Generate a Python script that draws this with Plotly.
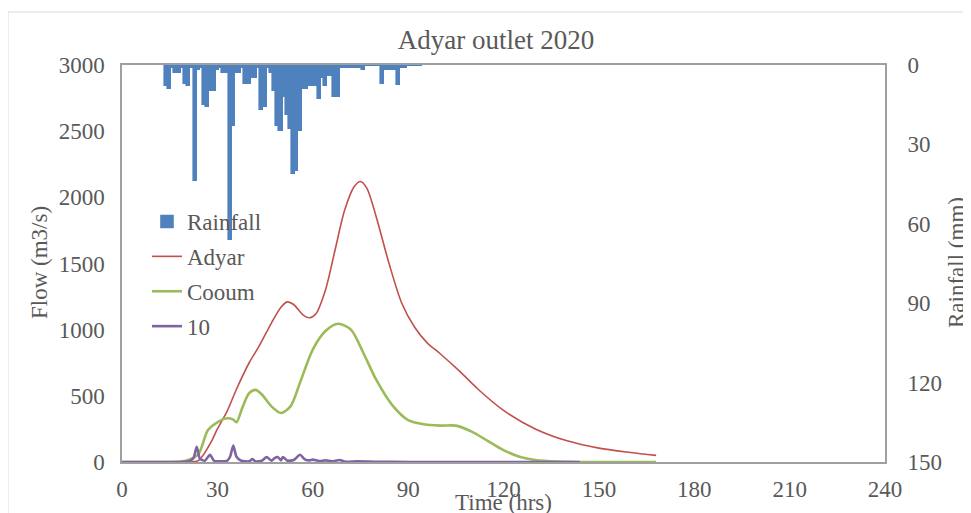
import plotly.graph_objects as go

# Rainfall (hourly, mm)
rain_hours = list(range(14, 95))
rain_mm = [8, 9, 1, 3, 3, 1, 7, 8, 1, 44, 2, 1, 15, 16, 10, 10, 2, 1, 3, 3,
           66, 23, 3, 3, 1, 7, 7, 5, 5, 1, 17, 16, 1, 3, 10, 23, 25, 12, 19, 24,
           41, 40, 25, 9, 9, 8, 8, 8, 13, 5, 8, 4, 4, 12, 12, 1, 1, 1, 1, 1,
           1, 1, 2, 0.5, 0.5, 0.5, 0.5, 0.5, 7, 2, 2, 2, 2, 7.5, 1, 1, 0.5, 0.5, 0.5, 0.3, 0.3]

# Adyar flow
adyar_t = [0, 10, 20, 24, 28, 30, 33, 36, 40, 43, 47, 50, 52, 54, 57, 59, 61, 64, 67, 70,
           73, 75, 77, 80, 84, 88, 92, 96, 100, 106, 112, 120, 130, 140, 150, 160, 168]
adyar_q = [0, 0, 0, 10, 150, 250, 380, 550, 750, 870, 1050, 1170, 1210, 1190, 1110, 1090, 1120, 1300, 1600, 1900,
           2080, 2120, 2070, 1850, 1500, 1200, 1020, 900, 820, 690, 550, 390, 250, 160, 105, 72, 50]

# Cooum flow
cooum_t = [0, 10, 20, 24, 27, 30, 33, 35, 36, 38, 40, 42, 44, 47, 50, 53, 56, 60, 64, 68,
           72, 76, 80, 85, 90, 95, 100, 105, 110, 115, 120, 125, 130, 137, 144, 156, 168]
cooum_q = [0, 0, 10, 60, 240, 300, 330, 320, 300, 420, 520, 545, 510, 420, 370, 420, 600, 850, 990, 1045,
           1000, 820, 620, 430, 317, 285, 275, 275, 230, 160, 90, 40, 15, 3, 0, 0, 0]

# "10" flow
s10_t = [0, 18, 21, 22.5, 23.5, 24.5, 26, 27.7, 29, 31, 33, 34, 35, 36, 37.5, 40, 41, 42, 44, 45.5,
         47, 48, 49, 50, 50.6, 52, 54, 56, 57.5, 59, 60, 62, 64, 66, 68.5, 70, 74, 80, 90, 144]
s10_q = [0, 0, 5, 30, 115, 25, 10, 55, 8, 5, 8, 40, 125, 40, 10, 5, 22, 5, 10, 38,
         10, 30, 38, 12, 38, 10, 15, 55, 20, 12, 18, 8, 12, 5, 15, 3, 5, 2, 0, 0]

font_family = "Liberation Serif, Times New Roman, serif"
txt = "#595959"

# page body has an 8px margin; figure is laid out in window coords minus 8
OFF = 8
W, H = 971 - OFF, 513 - OFF
PL, PR, PT, PB = 122, 885, 65, 462  # plot area in window pixels
PW, PH = PR - PL, PB - PT


def px(xw):
    return (xw - PL) / PW


def py(yw):
    return (PB - yw) / PH


fig = go.Figure()
fig.add_trace(go.Bar(x=rain_hours, y=rain_mm, name="Rainfall", yaxis="y2",
                     width=1.0, marker=dict(color="#4F81BD", line=dict(color="#4F81BD", width=1.6)),
                     legendgroup="a"))
fig.add_trace(go.Scatter(x=adyar_t, y=adyar_q, name="Adyar", mode="lines",
                         line=dict(color="#C0504D", width=1.6, shape="spline", smoothing=0.8),
                         legendgroup="b"))
fig.add_trace(go.Scatter(x=cooum_t, y=cooum_q, name="Cooum", mode="lines",
                         line=dict(color="#9BBB59", width=2.6, shape="spline", smoothing=0.8),
                         legendgroup="c"))
fig.add_trace(go.Scatter(x=s10_t, y=s10_q, name="10", mode="lines",
                         line=dict(color="#8064A2", width=2.6, shape="spline", smoothing=0.6),
                         legendgroup="d"))

clear = "rgba(0,0,0,0)"
fig.update_layout(
    width=W, height=H,
    margin=dict(l=PL - OFF, r=W - (PR - OFF), t=PT - OFF, b=H - (PB - OFF)),
    paper_bgcolor="white", plot_bgcolor="white",
    font=dict(family=font_family, size=23, color=txt),
    title=dict(text="Adyar outlet 2020", x=(496 - OFF) / W, xanchor="center", y=1 - (40 - OFF) / H,
               yanchor="middle", font=dict(size=27, color=txt)),
    bargap=0,
    showlegend=True,
    legend=dict(x=px(147), y=py(200), xanchor="left", yanchor="top", bgcolor=clear,
                traceorder="grouped", tracegroupgap=2, font=dict(size=23, color=txt),
                itemwidth=30),
    xaxis=dict(range=[0, 240], tickvals=list(range(0, 241, 30)), showgrid=False, zeroline=False,
               showline=True, linecolor="#A0A0A0", linewidth=1.5, mirror=True,
               ticks="outside", ticklen=6, tickcolor=clear,
               tickfont=dict(size=23, color=txt)),
    yaxis=dict(range=[0, 3000], tickvals=list(range(0, 3001, 500)), showgrid=False, zeroline=False,
               showline=True, linecolor="#A0A0A0", linewidth=1.5, mirror=True,
               ticks="outside", ticklen=11, tickcolor=clear,
               tickfont=dict(size=23, color=txt)),
    yaxis2=dict(range=[150, 0], tickvals=list(range(0, 151, 30)), overlaying="y", side="right",
                showgrid=False, zeroline=False, showline=False,
                ticks="outside", ticklen=17, tickcolor=clear,
                tickfont=dict(size=23, color=txt)),
    shapes=[dict(type="rect", xref="paper", yref="paper",
                 x0=px(8), x1=px(980),
                 y0=py(530), y1=py(12),
                 line=dict(color="#D9D9D9", width=1), layer="below")],
    annotations=[
        dict(text="Flow (m3/s)", xref="paper", yref="paper", x=px(40), y=py(263),
             textangle=-90, showarrow=False, xanchor="center", yanchor="middle",
             font=dict(size=23, color=txt)),
        dict(text="Rainfall (mm)", xref="paper", yref="paper", x=px(957), y=py(263),
             textangle=-90, showarrow=False, xanchor="center", yanchor="middle",
             font=dict(size=23, color=txt)),
        dict(text="Time (hrs)", xref="paper", yref="paper", x=px(503), y=py(503),
             showarrow=False, xanchor="center", yanchor="middle",
             font=dict(size=23, color=txt)),
    ],
)

fig.write_html("out.html")
